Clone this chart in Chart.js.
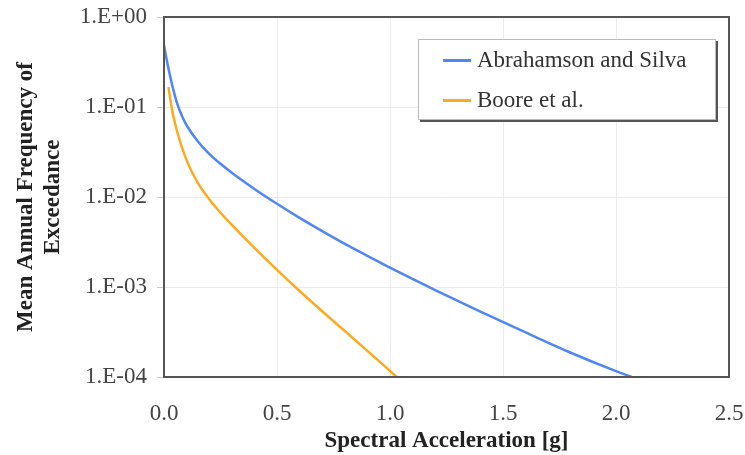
<!DOCTYPE html>
<html>
<head>
<meta charset="utf-8">
<script src="https://cdn.jsdelivr.net/npm/chart.js@4"></script>
<style>
  body { margin: 0; background: #fff; }
  #wrap { position: relative; width: 745px; height: 455px; }
  #legend {
    position: absolute; left: 418px; top: 39px; width: 296px; height: 79px;
    background: #fff; border: 1px solid #bbb; box-shadow: 2px 2px 0 #555;
    font-family: "Liberation Serif", "Times New Roman", serif; font-size: 23px; color: #333;
  }
  .item { position: absolute; left: 24px; display: flex; align-items: center; line-height: 26px; }
  .swatch { width: 28px; height: 3px; margin-right: 6px; }
</style>
</head>
<body>
<div id="wrap">
  <canvas id="chart" width="745" height="455"></canvas>
  <div id="legend"></div>
</div>
<script>
const seriesNames = ["Abrahamson and Silva", "Boore et al."];
const seriesColors = ["#5086f5", "#ffaa1e"];

// Abrahamson and Silva
const asX = [0, 0.01, 0.02, 0.04, 0.06, 0.08, 0.1, 0.15, 0.2, 0.25, 0.3, 0.4, 0.5, 0.6, 0.7, 0.8, 0.9, 1.0, 1.2, 1.4, 1.6, 1.8, 2.0, 2.07];
const asY = [0.49, 0.355, 0.266, 0.160, 0.106, 0.0789, 0.0627, 0.0414, 0.0302, 0.0234, 0.0186, 0.0123, 0.00841, 0.00586, 0.00418, 0.00302, 0.00222, 0.00164, 0.000925, 0.000533, 0.000313, 0.000186, 0.000116, 0.0001];

// Boore et al.
const booreX = [0.02, 0.03, 0.04, 0.05, 0.075, 0.1, 0.125, 0.15, 0.175, 0.2, 0.25, 0.3, 0.4, 0.5, 0.6, 0.7, 0.8, 0.9, 1.0, 1.03];
const booreY = [0.166, 0.112, 0.0822, 0.0638, 0.0385, 0.0257, 0.0186, 0.0143, 0.0115, 0.00944, 0.00668, 0.0049, 0.00272, 0.00155, 0.000902, 0.000537, 0.000324, 0.000195, 0.000117, 0.0001];

const yTicks = [1, 0.1, 0.01, 0.001, 0.0001];
const yTickLabels = ["1.E+00", "1.E-01", "1.E-02", "1.E-03", "1.E-04"];

const font = "'Liberation Serif', 'Times New Roman', serif";

function pts(xs, ys) { return xs.map((x, i) => ({ x: x, y: ys[i] })); }

// box round the plot area
const frame = {
  id: "frame",
  afterDatasetsDraw(chart) {
    const a = chart.chartArea, ctx = chart.ctx;
    ctx.save();
    ctx.strokeStyle = "#555";
    ctx.lineWidth = 2;
    ctx.strokeRect(a.left, a.top, a.right - a.left, a.bottom - a.top);
    ctx.restore();
  }
};

new Chart(document.getElementById("chart"), {
  type: "line",
  data: {
    datasets: [
      { label: seriesNames[0], data: pts(asX, asY), borderColor: seriesColors[0], borderWidth: 2.5, pointRadius: 0, cubicInterpolationMode: "monotone" },
      { label: seriesNames[1], data: pts(booreX, booreY), borderColor: seriesColors[1], borderWidth: 2.5, pointRadius: 0, cubicInterpolationMode: "monotone" }
    ]
  },
  options: {
    responsive: false,
    animation: false,
    layout: { padding: { top: 17, right: 16, left: 0, bottom: 0 } },
    plugins: { legend: { display: false }, tooltip: { enabled: false } },
    scales: {
      x: {
        type: "linear", min: 0, max: 2.5,
        ticks: { stepSize: 0.5, padding: 23, color: "#444", font: { family: font, size: 23 }, callback: v => v.toFixed(1) },
        grid: { color: "#ececec", drawTicks: false },
        border: { display: false },
        title: { display: true, text: "Spectral Acceleration [g]", color: "#222", font: { family: font, size: 23, weight: "bold" }, padding: { top: 0, bottom: 0 } },
        afterFit(s) { s.height = 78; s.paddingLeft = 0; s.paddingRight = 0; }
      },
      y: {
        type: "logarithmic", min: 0.0001, max: 1,
        afterBuildTicks(s) { s.ticks = yTicks.map(v => ({ value: v })); },
        ticks: { padding: 10, color: "#444", font: { family: font, size: 23 },
          callback: v => yTickLabels[yTicks.indexOf(v)] },
        grid: { color: "#ececec", tickLength: 7, tickColor: "#ccc" },
        border: { display: false },
        title: { display: true, text: ["Mean Annual Frequency of", "Exceedance"], color: "#222", font: { family: font, size: 23, weight: "bold" }, padding: 12 },
        afterFit(s) { s.width = 164; s.paddingTop = 0; s.paddingBottom = 0; }
      }
    }
  },
  plugins: [frame]
});

// legend in the plot, from the series names and colours
const legend = document.getElementById("legend");
seriesNames.forEach((name, i) => {
  const row = document.createElement("div");
  row.className = "item";
  row.style.top = (i === 0 ? 7 : 47) + "px";
  row.innerHTML = '<span class="swatch" style="background:' + seriesColors[i] + '"></span><span>' + name + '</span>';
  legend.appendChild(row);
});
</script>
</body>
</html>
